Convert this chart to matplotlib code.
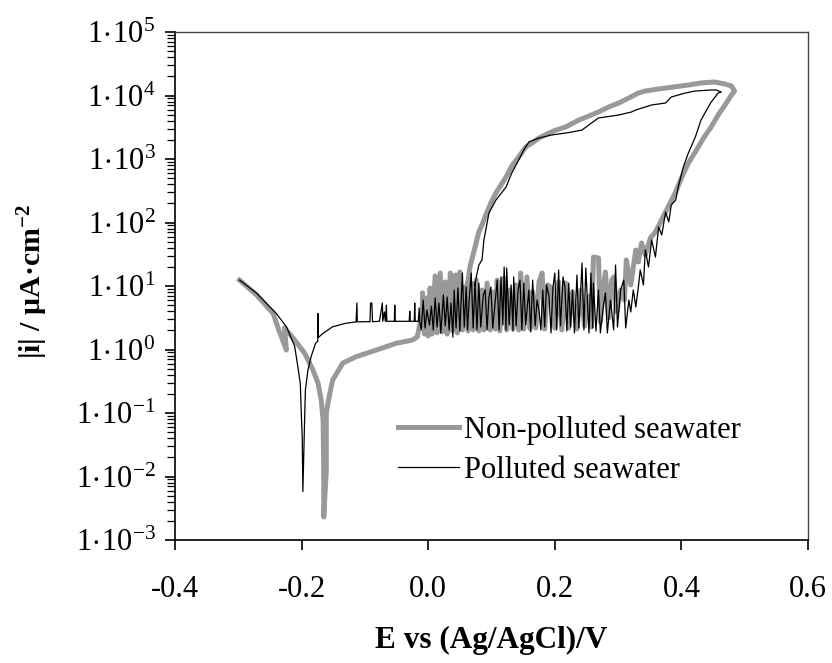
import math
import matplotlib
matplotlib.use('Agg')
import matplotlib.pyplot as plt
import matplotlib.ticker as mticker

# - cyclic polarisation curves, E / V vs Ag/AgCl and |i| / uA cm-2
# - each list holds (E, |i|) points, in scan order

# non-polluted seawater (grey)
clean_cathodic = [
    (-0.298, 12.4), (-0.271, 7.2), (-0.245, 3.7), (-0.235, 1.9), (-0.224, 0.98),
    (-0.227, 2.2), (-0.211, 1.41), (-0.195, 0.87), (-0.182, 0.475), (-0.174, 0.294),
    (-0.169, 0.160), (-0.166, 0.078), (-0.165, 0.0127), (-0.165, 0.0023), (-0.161, 0.0127),
    (-0.161, 0.10), (-0.157, 0.17), (-0.151, 0.33), (-0.135, 0.61), (-0.114, 0.77),
    (-0.082, 0.98), (-0.051, 1.25), (-0.025, 1.41), (-0.017, 1.59), (-0.014, 2.29),
    (-0.009, 4.19), (-0.009, 7.8),
]
clean_forward = [
    (-0.006, 1.75), (-0.003, 6.47), (0.000, 1.63), (0.003, 9.31), (0.006, 1.75),
    (0.011, 14.4), (0.014, 1.82), (0.019, 16.0), (0.022, 1.89), (0.027, 11.6),
    (0.030, 1.75), (0.035, 16.0), (0.038, 1.96), (0.043, 14.9), (0.046, 1.82),
    (0.050, 16.6), (0.054, 2.03), (0.058, 9.65), (0.063, 1.96), (0.068, 11.1),
    (0.071, 2.03), (0.076, 12.4), (0.080, 1.96), (0.085, 8.65), (0.088, 2.03),
    (0.093, 11.1), (0.098, 2.03), (0.102, 8.05), (0.106, 2.10), (0.109, 12.4),
    (0.113, 1.96), (0.120, 13.4), (0.124, 2.03), (0.129, 8.65), (0.134, 2.10),
    (0.139, 10.4), (0.143, 2.03), (0.146, 16.0), (0.151, 2.10), (0.156, 13.9),
    (0.161, 2.10), (0.165, 8.05), (0.170, 2.18), (0.175, 11.6), (0.180, 16.0),
    (0.184, 2.10), (0.189, 10.4), (0.195, 9.31), (0.200, 2.18), (0.206, 11.6),
    (0.211, 2.03), (0.217, 11.1), (0.222, 2.18), (0.228, 8.05), (0.235, 2.10),
    (0.241, 8.65), (0.247, 2.35), (0.254, 6.96), (0.258, 2.26), (0.261, 28.6),
    (0.269, 27.6), (0.272, 2.71), (0.277, 10.4), (0.280, 16.6), (0.285, 3.13),
    (0.290, 12.4), (0.293, 13.9), (0.298, 3.90), (0.304, 8.65), (0.310, 6.02),
    (0.313, 25.7), (0.320, 10.4), (0.328, 36.9), (0.332, 23.9), (0.337, 47.6),
    (0.343, 30.8), (0.351, 57.0), (0.359, 70.9), (0.367, 102), (0.375, 146),
    (0.383, 210), (0.391, 302), (0.400, 502), (0.411, 865), (0.422, 1289),
    (0.435, 2142), (0.447, 3190), (0.458, 4932), (0.469, 7086), (0.479, 10180),
    (0.484, 11770),
]
clean_reverse = [
    (0.479, 14120), (0.469, 15180), (0.452, 16320), (0.431, 15740), (0.411, 14640),
    (0.387, 13610), (0.364, 12660), (0.343, 11770), (0.332, 10940), (0.317, 9140),
    (0.301, 7620), (0.285, 6590), (0.269, 5498), (0.254, 4757), (0.238, 4110),
    (0.217, 3190), (0.202, 2862), (0.191, 2566), (0.175, 2142), (0.164, 1786),
    (0.154, 1545), (0.143, 1075), (0.132, 776), (0.123, 521), (0.115, 390),
    (0.107, 292), (0.099, 203), (0.091, 131), (0.085, 91.4), (0.080, 70.9),
    (0.076, 49.3), (0.071, 30.8), (0.066, 19.9), (0.063, 12.4), (0.060, 8.65),
]

# polluted seawater (black)
poll_cathodic = [
    (-0.298, 12.4), (-0.271, 7.7), (-0.240, 3.7), (-0.224, 2.28), (-0.211, 1.13),
    (-0.206, 0.54), (-0.202, 0.29), (-0.2005, 0.099), (-0.199, 0.042), (-0.198, 0.0058),
    (-0.196, 0.042), (-0.195, 0.099), (-0.194, 0.23), (-0.190, 0.475), (-0.185, 0.77),
    (-0.178, 1.25), (-0.1745, 1.35), (-0.174, 3.7), (-0.1735, 1.55), (-0.166, 1.80),
    (-0.151, 2.28), (-0.130, 2.59), (-0.114, 2.72), (-0.1126, 5.4), (-0.112, 2.72),
    (-0.101, 2.74), (-0.092, 2.74), (-0.091, 5.4), (-0.089, 5.4), (-0.088, 2.74),
    (-0.077, 2.78), (-0.0724, 5.4), (-0.0717, 2.78), (-0.0693, 3.9), (-0.0677, 2.78),
    (-0.0661, 5.0), (-0.0654, 2.78), (-0.0535, 2.78), (-0.0528, 5.0), (-0.052, 2.78),
    (-0.030, 2.78), (-0.0291, 4.0), (-0.0283, 2.78), (-0.022, 2.78), (-0.0213, 5.4),
    (-0.0205, 2.78), (-0.0157, 2.78), (-0.0142, 4.5), (-0.0134, 2.74),
]
poll_forward = [
    (-0.011, 2.03), (-0.008, 6.02), (-0.005, 2.18), (-0.002, 4.19), (0.002, 2.43),
    (0.005, 4.84), (0.008, 2.03), (0.011, 6.47), (0.014, 2.26), (0.017, 5.40),
    (0.020, 1.82), (0.024, 7.22), (0.027, 2.35), (0.030, 6.71), (0.033, 2.03),
    (0.036, 5.40), (0.039, 1.57), (0.041, 8.65), (0.044, 2.18), (0.047, 9.31),
    (0.050, 1.96), (0.054, 16.0), (0.057, 2.26), (0.060, 9.65), (0.062, 2.03),
    (0.065, 6.71), (0.068, 16.0), (0.071, 2.18), (0.074, 11.6), (0.077, 2.03),
    (0.080, 11.1), (0.083, 2.26), (0.087, 7.22), (0.090, 8.65), (0.093, 2.03),
    (0.096, 6.71), (0.099, 9.65), (0.102, 2.18), (0.106, 6.02), (0.109, 12.4),
    (0.112, 2.03), (0.115, 13.9), (0.118, 2.43), (0.120, 19.9), (0.123, 2.03),
    (0.124, 19.2), (0.128, 2.43), (0.131, 10.4), (0.134, 1.96), (0.135, 13.9),
    (0.139, 2.35), (0.142, 8.65), (0.145, 12.4), (0.148, 2.03), (0.151, 11.1),
    (0.154, 2.43), (0.159, 8.65), (0.162, 1.89), (0.165, 12.4), (0.169, 2.35),
    (0.172, 6.02), (0.175, 4.19), (0.178, 2.03), (0.181, 8.65), (0.184, 2.26),
    (0.187, 10.4), (0.191, 6.71), (0.194, 1.82), (0.197, 9.31), (0.200, 16.0),
    (0.203, 2.03), (0.206, 17.9), (0.209, 2.35), (0.213, 13.9), (0.216, 9.65),
    (0.219, 1.96), (0.222, 11.1), (0.225, 2.26), (0.228, 8.65), (0.231, 1.82),
    (0.235, 14.9), (0.238, 2.18), (0.243, 23.0), (0.246, 2.03), (0.249, 19.2),
    (0.254, 1.82), (0.257, 16.0), (0.260, 2.18), (0.261, 11.1), (0.265, 1.96),
    (0.269, 8.65), (0.272, 1.82), (0.277, 5.02), (0.280, 7.76), (0.283, 1.82),
    (0.288, 6.02), (0.293, 2.03), (0.296, 21.4), (0.299, 2.26), (0.304, 8.65),
    (0.309, 12.4), (0.312, 2.18), (0.317, 6.02), (0.320, 3.90), (0.324, 8.65),
    (0.328, 4.67), (0.332, 9.65), (0.335, 17.9), (0.340, 10.4), (0.343, 36.9),
    (0.348, 19.9), (0.353, 53.0), (0.359, 28.6), (0.364, 84.9), (0.369, 63.6),
    (0.375, 146), (0.380, 102), (0.384, 189), (0.391, 226), (0.395, 362),
    (0.403, 748), (0.411, 1242), (0.422, 2218), (0.431, 4110), (0.446, 7620),
    (0.458, 10940), (0.463, 11350),
]
poll_reverse = [
    (0.455, 12210), (0.447, 12210), (0.422, 11770), (0.406, 10940), (0.384, 9470),
    (0.375, 7620), (0.353, 7086), (0.328, 5912), (0.321, 5498), (0.301, 4932),
    (0.269, 4426), (0.258, 3690), (0.243, 2862), (0.227, 2661), (0.217, 2566),
    (0.195, 2388), (0.175, 2142), (0.159, 1854), (0.151, 1386), (0.143, 964),
    (0.132, 603), (0.123, 362), (0.107, 226), (0.096, 141), (0.091, 76.2),
    (0.088, 53.0), (0.085, 25.7), (0.080, 21.4), (0.076, 13.9), (0.074, 10.4),
]

labels = ['Non-polluted seawater', 'Polluted seawater']
x_ticks = [-0.4, -0.2, 0.0, 0.2, 0.4, 0.6]
y_decades = [-3, -2, -1, 0, 1, 2, 3, 4, 5]

plt.rcParams['font.family'] = ['Liberation Serif', 'DejaVu Serif']
plt.rcParams['mathtext.fontset'] = 'custom'
plt.rcParams['mathtext.rm'] = 'Liberation Serif'
plt.rcParams['mathtext.it'] = 'Liberation Serif:italic'
plt.rcParams['mathtext.bf'] = 'Liberation Serif:bold'
plt.rcParams['axes.unicode_minus'] = False

fig = plt.figure(figsize=(8.32, 6.63), dpi=100)
ax = fig.add_axes([175/832, 1 - 540/663, 633/832, 508/663])

e1, i1 = zip(*(clean_cathodic + clean_forward + clean_reverse))
e2, i2 = zip(*(poll_cathodic + poll_forward + poll_reverse))

ax.plot(e1, i1, color='#999999', lw=3.6, label=labels[0])
ax.plot(e2, i2, color='black', lw=0.9, label=labels[1])

ax.set_yscale('log')
ax.set_xlim(-0.4, 0.6)
ax.set_ylim(10.0**y_decades[0], 10.0**y_decades[-1])

def decade_label(v, pos):
    return r'$\mathregular{1\!\cdot\!10^{%d}}$' % round(math.log10(v))

ax.set_xticks(x_ticks)
ax.xaxis.set_major_formatter(mticker.FormatStrFormatter('%.1f'))
ax.set_yticks([10.0**d for d in y_decades])
ax.yaxis.set_major_formatter(mticker.FuncFormatter(decade_label))
ax.yaxis.set_minor_locator(mticker.LogLocator(base=10, subs=range(2, 10), numticks=100))
ax.yaxis.set_minor_formatter(mticker.NullFormatter())

ax.tick_params(axis='x', which='both', direction='out', length=7, width=1.2,
               top=False, labelsize=22, pad=18)
ax.tick_params(axis='y', which='major', direction='out', length=7, width=1.2,
               right=False, labelsize=22, pad=7)
ax.tick_params(axis='y', which='minor', direction='out', length=6, width=0.9, right=False)

for s in ['left', 'bottom']:
    ax.spines[s].set_linewidth(1.2)
for s in ['top', 'right']:
    ax.spines[s].set_linewidth(1.0)
    ax.spines[s].set_color('#444444')

ax.legend(loc='upper left', bbox_to_anchor=(0.352, 0.245), frameon=False,
          fontsize=22, borderpad=0, borderaxespad=0, handlelength=2.0,
          handletextpad=0.16, labelspacing=0.35)

fig.text(491/832, 1 - 640/663, 'E vs (Ag/AgCl)/V', ha='center', va='center',
         fontsize=22.5, fontweight='bold')
fig.text(33/832, 1 - 282/663, r'|i| / μA·cm$^{\mathbf{-2}}$', ha='center', va='center',
         rotation=90, fontsize=21.5, fontweight='bold')

plt.savefig('out.png', dpi=100)
